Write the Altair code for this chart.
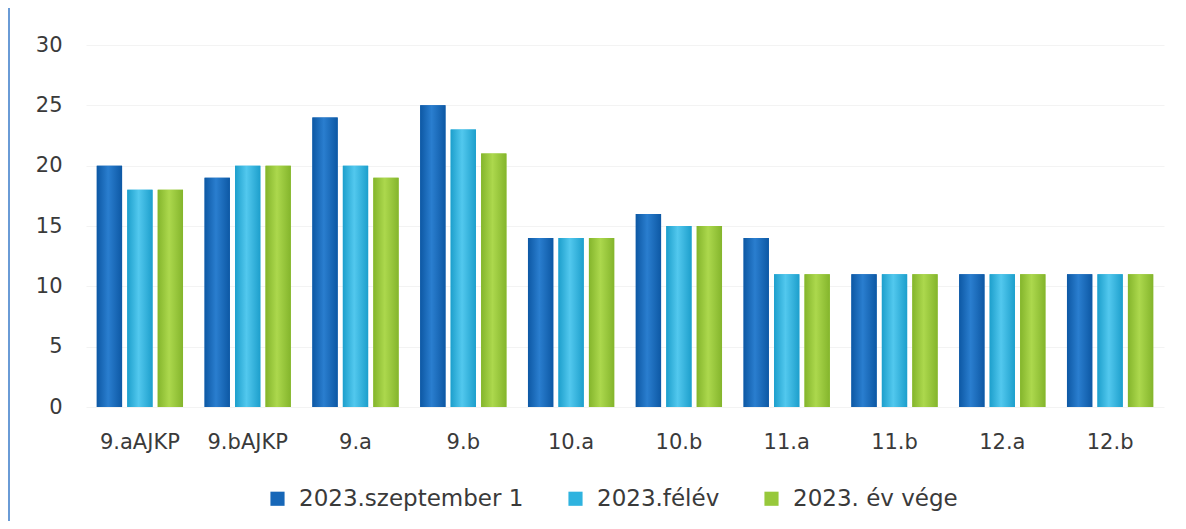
import altair as alt
import pandas as pd

categories = ["9.aAJKP", "9.bAJKP", "9.a", "9.b", "10.a", "10.b", "11.a", "11.b", "12.a", "12.b"]
series_names = ["2023.szeptember 1", "2023.félév", "2023. év vége"]
sept = [20, 19, 24, 25, 14, 16, 14, 11, 11, 11]
half = [18, 20, 20, 23, 14, 15, 11, 11, 11, 11]
year_end = [18, 20, 19, 21, 14, 15, 11, 11, 11, 11]
colors = ["#1767b8", "#2fb3df", "#97c83b"]
edge_colors = ["#0d58a4", "#1d9fcc", "#84b52c"]
center_colors = ["#2a7ecf", "#52c8ee", "#acd84d"]

rows = []
for s, vals in zip(series_names, [sept, half, year_end]):
    for c, v in zip(categories, vals):
        rows.append({"Osztály": c, "Sorozat": s, "Létszám": v})
df = pd.DataFrame(rows)

W, H = 1078, 362
FONT = "DejaVu Sans"

x_enc = alt.X("Osztály:N", sort=categories,
              scale=alt.Scale(paddingInner=0.2, paddingOuter=0.1),
              axis=alt.Axis(title=None, labelAngle=0, domain=False, ticks=False,
                            labelPadding=24, labelFontSize=21, labelColor="#3a3a3a",
                            labelFont=FONT, grid=False))
xo_enc = alt.XOffset("Sorozat:N", sort=series_names,
                     scale=alt.Scale(paddingInner=0.17))
y_enc = alt.Y("Létszám:Q", scale=alt.Scale(domain=[0, 30]),
              axis=alt.Axis(title=None, values=[0, 5, 10, 15, 20, 25, 30], domain=False,
                            ticks=False, labelPadding=24, labelFontSize=21,
                            labelColor="#3a3a3a", labelFont=FONT,
                            gridColor="#f3f3f3", gridWidth=1))

base = alt.Chart(df).mark_bar().encode(
    x=x_enc, xOffset=xo_enc, y=y_enc,
    color=alt.Color("Sorozat:N", sort=series_names,
                    scale=alt.Scale(domain=series_names, range=colors),
                    legend=alt.Legend(title=None, orient="none", direction="horizontal",
                                      legendX=180, legendY=442, symbolType="square",
                                      symbolSize=200, symbolStrokeWidth=0,
                                      labelFontSize=23, labelFont=FONT,
                                      labelColor="#3a3a3a", columnPadding=40,
                                      labelOffset=10, labelLimit=500)),
)

layers = [base]
for s, e, c in zip(series_names, edge_colors, center_colors):
    grad = alt.Gradient(
        gradient="linear", x1=0, x2=1, y1=0, y2=0,
        stops=[alt.GradientStop(color=e, offset=0),
               alt.GradientStop(color=c, offset=0.45),
               alt.GradientStop(color=e, offset=1)])
    layers.append(
        alt.Chart(df).transform_filter(alt.datum["Sorozat"] == s)
        .mark_bar(color=grad)
        .encode(x=x_enc, xOffset=xo_enc, y=y_enc)
    )

border_df = pd.DataFrame({"x": [0]})
border = alt.Chart(border_df).mark_rule(color="#6a9bd6", strokeWidth=2).encode(
    x=alt.value(-77), y=alt.value(-45), y2=alt.value(H + 140)
)
layers.append(border)

chart = alt.layer(*layers).properties(
    width=W, height=H,
    background="white",
    autosize=alt.AutoSizeParams(type="none"),
    padding={"left": 78, "top": 37, "right": 14, "bottom": 114},
).configure_view(strokeWidth=0, stroke=None)

chart.save("out.html", embed_options={"renderer": "svg", "actions": False})
